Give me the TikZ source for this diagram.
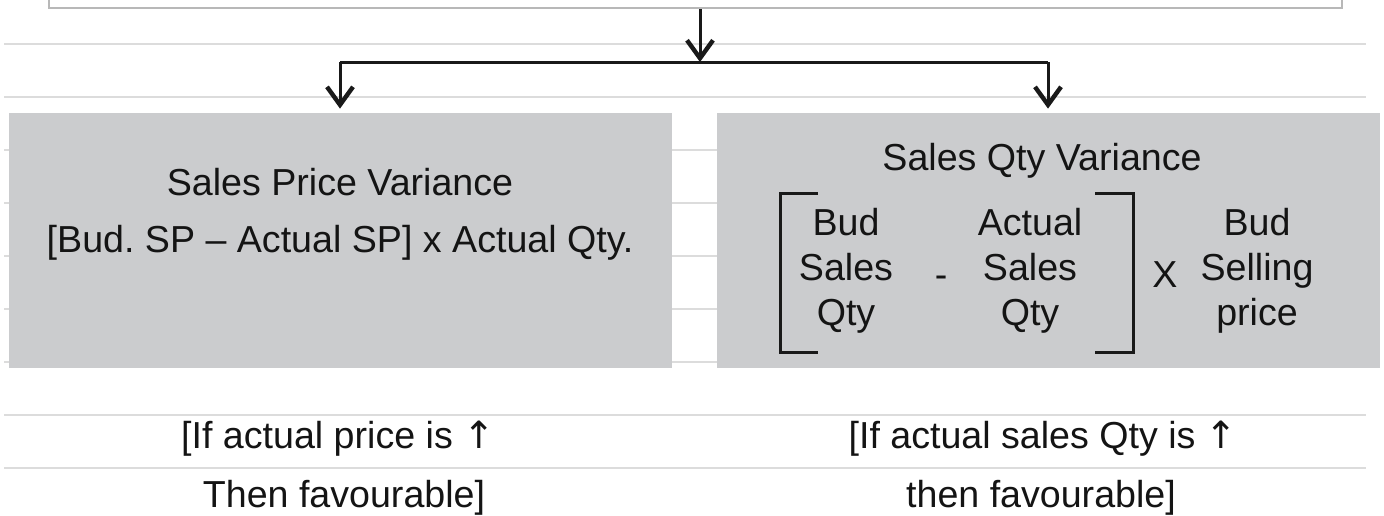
\documentclass[tikz,border=0pt]{standalone}
\usepackage{fontspec}
\setmainfont{Liberation Sans}
\newfontfamily\sym{DejaVu Sans}
\usetikzlibrary{arrows.meta}
\definecolor{boxgray}{HTML}{CBCCCE}
\definecolor{rulegray}{HTML}{DCDCDC}
\definecolor{framegray}{HTML}{B8B8B8}
\frenchspacing
\begin{document}
\begin{tikzpicture}[x=0.5pt,y=-0.5pt,
  rule/.style={rulegray, line width=0.8pt},
  panel/.style={fill=boxgray, draw=none, rectangle, minimum width=331.5pt, minimum height=127.5pt, inner sep=0pt},
  txt/.style={font=\fontsize{18.8}{23}\selectfont\frenchspacing, inner sep=0pt, anchor=base, text=black!92},
  conn/.style={line width=1.5pt, black!90},
  arr/.style={conn, -{Straight Barb[length=9pt,width=13pt,line width=2.2pt]}},
  bracket/.style={line width=1.5pt, black!90}
]
\useasboundingbox (0,0) rectangle (1384,515);
% ruled lines
\foreach \y in {44,97,150,203,256,309,362,415,468}
  \draw[rule] (4,\y) -- (1366,\y);
% top box (only its lower edge visible)
\node[draw=framegray, line width=1.4pt, minimum width=646.5pt, minimum height=50pt, inner sep=0pt] (top) at (695.5,-42) {};
% panels
\node[panel] (lbox) at (340.5,240.5) {};
\node[panel] (rbox) at (1048.5,240.5) {};
% connectors
\coordinate (jt) at (700,62);
\coordinate (jl) at (340,62);
\coordinate (jr) at (1048,62);
\draw[arr] (top.south -| jt) -- (jt);
\draw[conn] (jl) -- (jr);
\draw[arr] (jl) -- ([yshift=2pt]lbox.north -| jl);
\draw[arr] (jr) -- ([yshift=2pt]rbox.north -| jr);
% left panel text
\node[txt] (l1) at (340,195) {Sales Price Variance};
\node[txt] (l2) at (340,252) {[Bud. SP – Actual SP] x Actual Qty.};
% right panel text
\node[txt] (r1) at (1042,170) {Sales Qty Variance};
\node[txt] (a1) at (846,235) {Bud};
\node[txt] (a2) at (846,280) {Sales};
\node[txt] (a3) at (846,325) {Qty};
\node[txt] (m) at (941,287) {-};
\node[txt] (b1) at (1030,235) {Actual};
\node[txt] (b2) at (1030,280) {Sales};
\node[txt] (b3) at (1030,325) {Qty};
\node[txt] (x) at (1165,287) {X};
\node[txt] (c1) at (1257,235) {Bud};
\node[txt] (c2) at (1257,280) {Selling};
\node[txt] (c3) at (1257,325) {price};
\draw[bracket] (818,193) -- (780,193) -- (780,352) -- (818,352);
\draw[bracket] (1095,193) -- (1133,193) -- (1133,352) -- (1095,352);
% bottom notes
\node[txt] (n1) at (338,448) {[If actual price is {\sym ↑}};
\node[txt] (n2) at (344,507) {Then favourable]};
\node[txt] (n3) at (1043,448) {[If actual sales Qty is {\sym ↑}};
\node[txt] (n4) at (1041,507) {then favourable]};
\end{tikzpicture}
\end{document}
